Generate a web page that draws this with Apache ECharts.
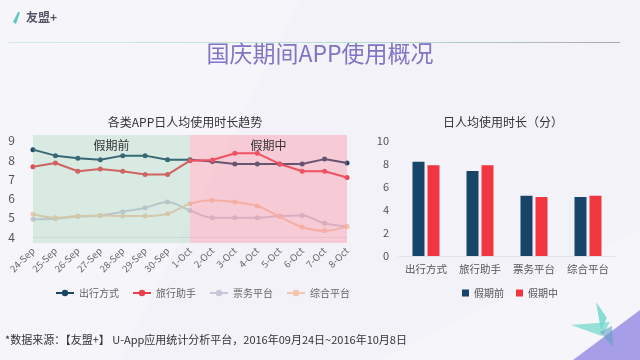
<!DOCTYPE html>
<html>
<head>
<meta charset="utf-8">
<script src="https://cdn.jsdelivr.net/npm/echarts@6/dist/echarts.min.js"></script>
<style>
html,body{margin:0;padding:0;background:#f3f2f8;}
#c{width:640px;height:360px;}
</style>
</head>
<body>
<div id="c"></div>
<script>
// ---- data ----
const dates = ['24-Sep','25-Sep','26-Sep','27-Sep','28-Sep','29-Sep','30-Sep','1-Oct','2-Oct','3-Oct','4-Oct','5-Oct','6-Oct','7-Oct','8-Oct'];
const appTypes = ['出行方式','旅行助手','票务平台','综合平台'];
const chuxing = [8.54,8.23,8.1,8.02,8.23,8.23,8.02,8.02,7.93,7.8,7.8,7.8,7.8,8.05,7.85];
const lvxing  = [7.65,7.85,7.42,7.54,7.42,7.25,7.25,7.97,8.0,8.35,8.35,7.8,7.42,7.42,7.1];
const piaowu  = [4.93,4.96,5.07,5.13,5.32,5.53,5.82,5.39,5.01,5.01,5.01,5.1,5.13,4.72,4.55];
const zonghe  = [5.19,5.01,5.1,5.13,5.1,5.1,5.22,5.74,5.92,5.82,5.62,5.07,4.53,4.33,4.55];
const lineYTicks = [4,5,6,7,8,9];
const periods = ['假期前','假期中'];
const barBefore = [8.2,7.4,5.24,5.13];
const barDuring = [7.9,7.9,5.13,5.24];

const FONT = 'Noto Sans CJK SC';
const chart = echarts.init(document.getElementById('c'));

const lineColors = ['#1d4566','#e8404c','#c9c6d8','#f2c7ae'];
const lineSeries = [chuxing, lvxing, piaowu, zonghe].map((d, i) => ({
  name: appTypes[i], type: 'line', xAxisIndex: 0, yAxisIndex: 0,
  data: d, symbol: 'circle', symbolSize: 5, smooth: i >= 2 ? 0.35 : false,
  lineStyle: {width: 2, color: lineColors[i]},
  itemStyle: {color: lineColors[i]}, z: 2
}));

chart.setOption({
  backgroundColor: '#f3f2f8',
  textStyle: {fontFamily: FONT},
  graphic: [
    {type:'polygon', shape:{points:[[0,0],[300,0],[120,360],[0,360]]}, style:{fill:'rgba(255,255,255,0.25)'}, silent:true, z:-10},
    {type:'polygon', shape:{points:[[380,360],[640,230],[640,360]]}, style:{fill:'rgba(255,255,255,0.25)'}, silent:true, z:-10},
    {type:'polygon', shape:{points:[[13,22],[18,12],[20,12],[16,24]]}, style:{fill:'#5cc8c0'}},
    {type:'text', left:26, top:11, style:{text:'友盟+', fontSize:12, fill:'#556', fontWeight:'bold', fontFamily:FONT}},
    {type:'rect', shape:{x:8, y:42, width:612, height:1},
      style:{fill:new echarts.graphic.LinearGradient(0,0,1,0,[{offset:0,color:'#d0ece8'},{offset:0.6,color:'#b8dcd8'},{offset:1,color:'#a8a8b8'}])}},
    {type:'text', left:'center', top:42, style:{text:'国庆期间APP使用概况', fontSize:23, fill:'#8074c4', fontFamily:FONT}},
    {type:'text', left:5, top:334, style:{text:'*数据来源：【友盟+】 U-App应用统计分析平台，2016年09月24日~2016年10月8日', fontSize:11, fill:'#333', fontFamily:FONT}},
    {type:'polygon', shape:{points:[[573,360],[640,310],[640,360]]}, style:{fill:'#a69ee6'}},
    {type:'polygon', shape:{points:[[596,302],[607,318],[601,330]]}, style:{fill:'rgba(100,210,200,0.75)'}},
    {type:'polygon', shape:{points:[[571,325],[610,322],[602,336]]}, style:{fill:'rgba(110,215,200,0.7)'}},
    {type:'polygon', shape:{points:[[600,332],[612,326],[613,347]]}, style:{fill:'rgba(100,160,200,0.6)'}}
  ],
  title: [
    {text:'各类APP日人均使用时长趋势', left:180, textAlign:'center', top:111,
      textStyle:{fontSize:12, fontWeight:'normal', color:'#333', fontFamily:FONT}},
    {text:'日人均使用时长（分）', left:498, textAlign:'center', top:111,
      textStyle:{fontSize:12, fontWeight:'normal', color:'#333', fontFamily:FONT}}
  ],
  legend: [
    {data: appTypes, left:50, top:283, itemWidth:18, itemHeight:8, itemGap:13,
      textStyle:{fontSize:10, color:'#666', fontFamily:FONT}},
    {data: periods, left:457, top:283, itemWidth:7, itemHeight:7, itemGap:12, icon:'rect',
      textStyle:{fontSize:10, color:'#555', fontFamily:FONT}}
  ],
  grid: [
    {left:33, right:293, top:135, bottom:117},
    {left:399, right:25, top:141, bottom:104}
  ],
  xAxis: [
    {type:'category', gridIndex:0, data:dates, boundaryGap:false,
      axisLine:{show:false}, axisTick:{show:false},
      axisLabel:{rotate:45, fontSize:9.5, color:'#666', margin:6, interval:0}},
    {type:'category', gridIndex:1, data:appTypes,
      axisLine:{lineStyle:{color:'#e2e1ea'}}, axisTick:{show:false},
      axisLabel:{fontSize:10.5, color:'#555', margin:8, interval:0}}
  ],
  yAxis: [
    {type:'value', gridIndex:0, min:3.7, max:9.3,
      axisLine:{show:false}, axisTick:{show:false}, splitLine:{show:false},
      axisLabel:{customValues: lineYTicks, fontSize:12, color:'#555', margin:18}},
    {type:'value', gridIndex:1, min:0, max:10, interval:2,
      axisLine:{show:false}, axisTick:{show:false}, splitLine:{show:false},
      axisLabel:{fontSize:11, color:'#555', margin:10}}
  ],
  series: [
    ...lineSeries,
    {name:'bg', type:'line', xAxisIndex:0, yAxisIndex:0, data:[], z:5, silent:true,
      markLine:{silent:true, symbol:'none', label:{show:false},
        lineStyle:{color:'rgba(0,0,0,0.07)', type:'solid', width:1},
        data:[{yAxis:4}]},
      markArea:{silent:true, z:10,
        label:{position:'insideTop', fontSize:12, color:'#333', distance:4, fontFamily:FONT},
        data:[
          [{name:periods[0], xAxis:dates[0], itemStyle:{color:'rgba(130,205,160,0.26)'}}, {xAxis:dates[7]}],
          [{name:periods[1], xAxis:dates[7], itemStyle:{color:'rgba(255,120,140,0.32)'}}, {xAxis:dates[14]}]
        ]}
    },
    {name:periods[0], type:'bar', xAxisIndex:1, yAxisIndex:1, data:barBefore,
      barWidth:12, barGap:'25%', itemStyle:{color:'#174469'}},
    {name:periods[1], type:'bar', xAxisIndex:1, yAxisIndex:1, data:barDuring,
      barWidth:12, barGap:'25%', itemStyle:{color:'#f0373f'}}
  ]
});
</script>
</body>
</html>
